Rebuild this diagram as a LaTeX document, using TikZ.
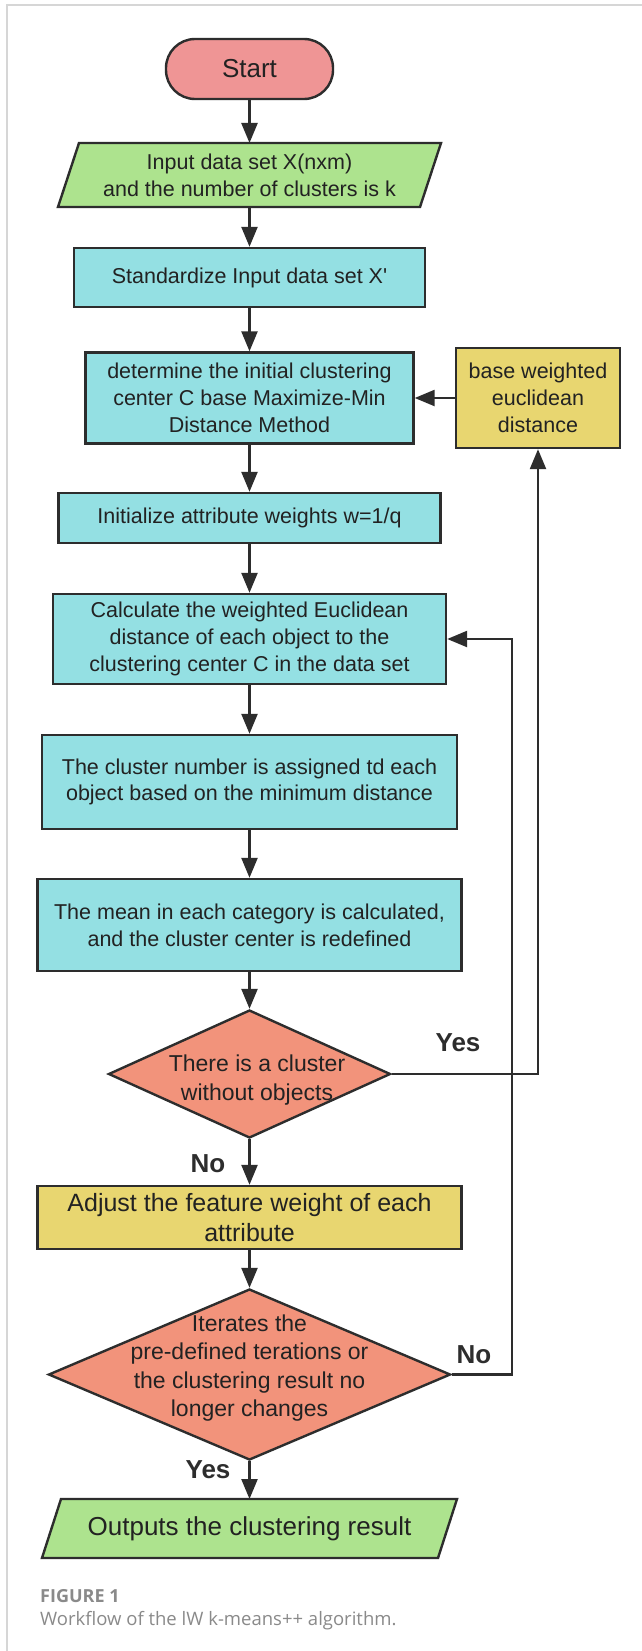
\documentclass[tikz,border=0pt]{standalone}
\usepackage{fontspec}
\setmainfont{Liberation Sans}
\newfontfamily\capfont{Open Sans}
\usetikzlibrary{arrows.meta,shapes.geometric,calc,backgrounds}
\definecolor{lc}{HTML}{2D2D2D}
\definecolor{txt}{HTML}{222222}
\definecolor{startf}{HTML}{EF9595}
\definecolor{greenf}{HTML}{ADE38E}
\definecolor{cyanf}{HTML}{94E0E3}
\definecolor{yellowf}{HTML}{E8D670}
\definecolor{salmonf}{HTML}{F2937B}
\definecolor{capgray}{HTML}{8A8A8A}
\definecolor{framegray}{HTML}{D6D6D6}
\newcommand\drawpgram[3]{\draw[draw=lc,line width=2.4pt,fill=#3]
  ($(#1.north west)+(#2,0)$) -- ($(#1.north east)+(#2,0)$) --
  ($(#1.south east)+(-#2,0)$) -- ($(#1.south west)+(-#2,0)$) -- cycle;}
\begin{document}
\begin{tikzpicture}[x=1pt,y=-1pt,
  every node/.style={text=txt},
  box/.style={draw=lc, line width=2.4pt, rectangle, align=center, inner sep=0pt,
    font=\fontsize{21.5}{26.7}\selectfont},
  proc/.style={box, fill=cyanf},
  note/.style={box, fill=yellowf},
  startbox/.style={box, fill=startf, rounded corners=29pt, font=\fontsize{26}{30}\selectfont},
  iobox/.style={rectangle, align=center, inner sep=0pt, outer sep=0pt,
    font=\fontsize{21.5}{26.7}\selectfont},
  decision/.style={draw=lc, line width=2.4pt, diamond, fill=salmonf, inner sep=0pt},
  dtext/.style={align=center, inner sep=0pt, font=\fontsize{23}{28.4}\selectfont},
  conn/.style={draw=lc, line width=2.4pt, -{Triangle[length=20pt,width=16pt]}},
  lab/.style={inner sep=0pt, text=lc, font=\fontsize{26}{30}\selectfont\bfseries},
]
\useasboundingbox (0,0) rectangle (642,1651);

% nodes
\node[startbox, minimum width=167, minimum height=60] (start) at (249.5,69) {Start};
\node[iobox, minimum width=362, minimum height=64] (in) at (249.5,175)
  {Input data set X(nxm)\\and the number of clusters is k};
\node[proc, minimum width=351, minimum height=59] (std) at (249.5,277.5)
  {Standardize Input data set X\textquotesingle};
\node[proc, minimum width=328, minimum height=91] (det) at (249.5,398)
  {determine the initial clustering\\center C base Maximize-Min\\Distance Method};
\node[note, minimum width=164, minimum height=100] (basew) at (538,398)
  {base weighted\\euclidean\\distance};
\node[proc, minimum width=382, minimum height=50] (init) at (249.5,518)
  {Initialize attribute weights w=1/q};
\node[proc, minimum width=393, minimum height=90] (calc) at (249.5,639)
  {Calculate the weighted Euclidean\\distance of each object to the\\clustering center C in the data set};
\node[proc, minimum width=415, minimum height=94] (clus) at (249.5,782)
  {The cluster number is assigned td each\\object based on the minimum distance};
\node[proc, minimum width=424, minimum height=92] (mean) at (249.5,925)
  {The mean in each category is calculated,\\and the cluster center is redefined};
\node[decision, minimum width=282, minimum height=128] (d1) at (249.5,1074) {};
\node[dtext] (d1t) at (257,1080) {There is a cluster\\without objects};
\node[note, minimum width=424, minimum height=63, font=\fontsize{25}{30}\selectfont] (adj) at (249.5,1217.5)
  {Adjust the feature weight of each\\attribute};
\node[decision, minimum width=402, minimum height=171] (d2) at (249.5,1374.5) {};
\node[dtext] (d2t) at (249.5,1368)
  {Iterates the\\pre-defined terations or\\the clustering result no\\longer changes};
\node[iobox, minimum width=396, minimum height=59, font=\fontsize{26}{30}\selectfont] (out) at (249.5,1528.5)
  {Outputs the clustering result};

% page, frame and parallelogram outlines behind the text
\begin{scope}[on background layer]
  \fill[white] (0,0) rectangle (642,1651);
  \draw[framegray, line width=1.5pt] (642,5) -- (7,5) -- (7,1651);
  \drawpgram{in}{10.5}{greenf}
  \drawpgram{out}{9.5}{greenf}
\end{scope}

% labels
\node[lab] (yes1) at (458,1043) {Yes};
\node[lab] (no1) at (208,1164) {No};
\node[lab] (no2) at (474,1355) {No};
\node[lab] (yes2) at (208,1470) {Yes};

% connectors
\draw[conn] (start) -- (in);
\draw[conn] (in) -- (std);
\draw[conn] (std) -- (det);
\draw[conn] (basew.west) -- (det.east);
\draw[conn] (det) -- (init);
\draw[conn] (init) -- (calc);
\draw[conn] (calc) -- (clus);
\draw[conn] (clus) -- (mean);
\draw[conn] (mean) -- (d1);
\draw[conn] (d1.south) -- (adj.north);
\draw[conn] (adj) -- (d2.north);
\draw[conn] (d2.south) -- (out.north);
\draw[conn] (d1.east) -| (basew.south);
\coordinate (lx) at (512,0);
\draw[conn] (d2.east) -- (d2.east -| lx) |- (calc.east);

% caption
\node[anchor=base west, inner sep=0pt, text=capgray, font=\capfont\fontsize{18}{21}\selectfont\bfseries] (fig) at (40,1602) {FIGURE 1};
\node[anchor=base west, inner sep=0pt, text=capgray, font=\capfont\fontsize{18.5}{21}\selectfont] (capt) at (40,1625.5) {Workflow of the lW k-means++ algorithm.};
\end{tikzpicture}
\end{document}
